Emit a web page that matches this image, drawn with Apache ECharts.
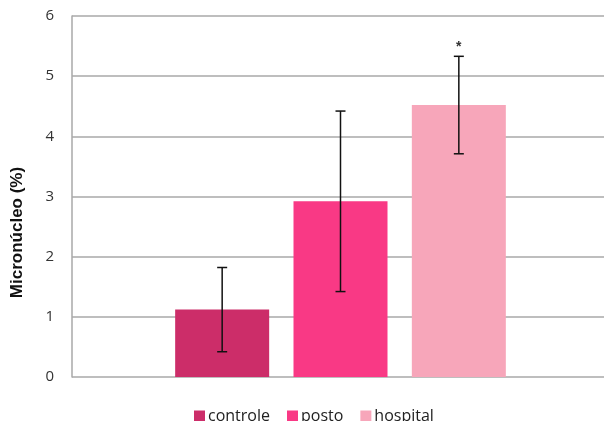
<!DOCTYPE html>
<html>
<head>
<meta charset="utf-8">
<script src="https://cdn.jsdelivr.net/npm/echarts@6/dist/echarts.min.js"></script>
<style>
  html, body { margin: 0; padding: 0; background: #fff; }
  #chart { width: 604px; height: 421px; }
</style>
</head>
<body>
<div id="chart"></div>
<script>
// Micronucleus frequency per group, mean with error range
const categories = ['controle', 'posto', 'hospital'];
const means = [1.12, 2.92, 4.52];
const errors = [0.70, 1.50, 0.81];
const significance = ['', '', '*'];
const yTicks = [0, 1, 2, 3, 4, 5, 6];
const colors = ['#CC2D69', '#F93985', '#F7A6BA'];

const chart = echarts.init(document.getElementById('chart'));

// one series per group so each gets a legend entry; stacked to stay centred in its band
const barSeries = categories.map((name, i) => ({
  name: name,
  type: 'bar',
  xAxisIndex: 1,
  yAxisIndex: 1,
  stack: 'groups',
  barWidth: 94,
  itemStyle: { color: colors[i] },
  data: categories.map((c, j) => (j === i ? means[i] : null))
}));

const errorData = categories.map((c, i) => [i, means[i] - errors[i], means[i] + errors[i], significance[i]]);

const errorSeries = {
  type: 'custom',
  xAxisIndex: 1,
  yAxisIndex: 1,
  z: 5,
  data: errorData,
  renderItem: function (params, api) {
    const x = api.value(0);
    const lo = api.coord([x, api.value(1)]);
    const hi = api.coord([x, api.value(2)]);
    const cap = 5;
    const style = { stroke: '#111', lineWidth: 1.5 };
    const children = [
      { type: 'line', shape: { x1: lo[0], y1: lo[1], x2: hi[0], y2: hi[1] }, style: style },
      { type: 'line', shape: { x1: lo[0] - cap, y1: lo[1], x2: lo[0] + cap, y2: lo[1] }, style: style },
      { type: 'line', shape: { x1: hi[0] - cap, y1: hi[1], x2: hi[0] + cap, y2: hi[1] }, style: style }
    ];
    const mark = significance[params.dataIndex];
    if (mark) {
      children.push({
        type: 'text',
        style: {
          text: mark, x: hi[0], y: hi[1] - 2,
          align: 'center', verticalAlign: 'bottom',
          fill: '#333', font: 'bold 14px "Liberation Sans", Arial, sans-serif'
        }
      });
    }
    return { type: 'group', children: children };
  }
};

chart.setOption({
  animation: false,
  backgroundColor: '#ffffff',
  grid: [
    { left: 72, right: 0, top: 16, bottom: 44, outerBoundsMode: 'none', containLabel: false },
    { left: 163, right: 86, top: 16, bottom: 44, outerBoundsMode: 'none', containLabel: false }
  ],
  legend: {
    data: categories,
    top: 403,
    left: 189,
    itemWidth: 11,
    itemHeight: 11,
    itemGap: 17,
    icon: 'rect',
    textStyle: { fontSize: 16, color: '#222', fontFamily: '"Open Sans", "Noto Sans", sans-serif', padding: [0, 0, 0, -2] }
  },
  xAxis: [
    {
      type: 'category', gridIndex: 0, data: [''],
      axisLine: { show: false }, axisTick: { show: false }, axisLabel: { show: false }
    },
    {
      type: 'category', gridIndex: 1, data: categories,
      axisLine: { show: false }, axisTick: { show: false }, axisLabel: { show: false }
    }
  ],
  yAxis: [
    {
      type: 'value', gridIndex: 0,
      min: yTicks[0], max: yTicks[yTicks.length - 1], interval: 1,
      name: 'Micronúcleo (%)',
      nameLocation: 'middle',
      nameGap: 46,
      nameTextStyle: {
        fontSize: 17, fontWeight: 'bold', color: '#111',
        fontFamily: '"Liberation Sans", Arial, sans-serif',
        padding: [0, 72, 0, 0]
      },
      axisLine: { show: true, lineStyle: { color: '#a8a8a8', width: 1.5 } },
      axisTick: { show: false },
      axisLabel: { margin: 18, fontSize: 15, color: '#333', fontFamily: '"Open Sans", "Noto Sans", sans-serif' },
      splitLine: { show: true, lineStyle: { color: '#a8a8a8', width: 1.5 } }
    },
    {
      type: 'value', gridIndex: 1,
      min: yTicks[0], max: yTicks[yTicks.length - 1], interval: 1,
      axisLine: { show: false }, axisTick: { show: false }, axisLabel: { show: false },
      splitLine: { show: false }
    }
  ],
  series: barSeries.concat([errorSeries])
});
</script>
</body>
</html>
